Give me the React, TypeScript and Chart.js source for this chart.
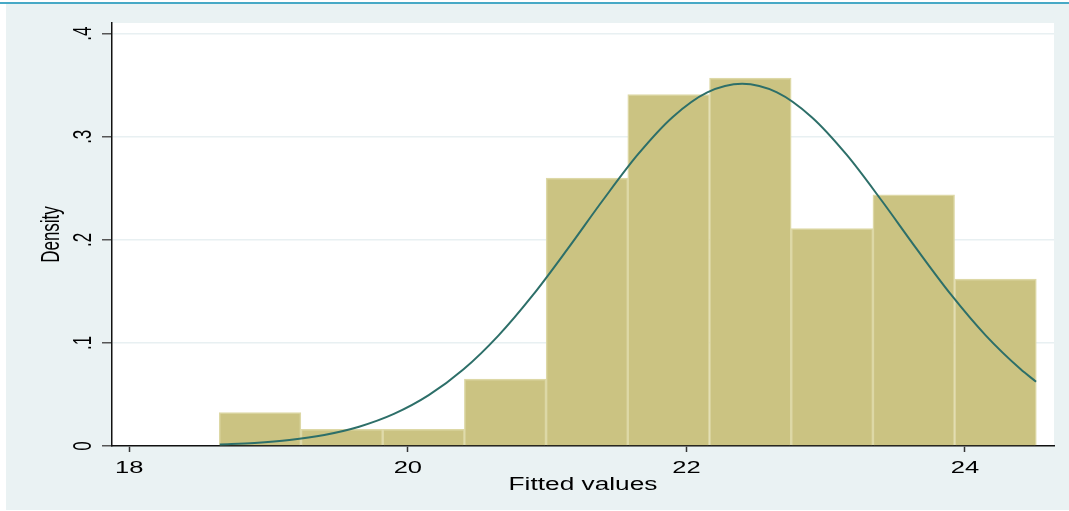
import React, { useEffect, useRef } from 'react';
import { Chart, registerables } from 'chart.js';

Chart.register(...registerables);

// Histogram bins (centers) and densities
const binCenters = [18.939, 19.526, 20.113, 20.699, 21.286, 21.872, 22.459, 23.046, 23.632, 24.219];
const binDensity = [0.0325, 0.0162, 0.0162, 0.065, 0.26, 0.341, 0.357, 0.211, 0.2436, 0.162];

// Normal density overlay
const curveX = [18.65, 18.9, 19.15, 19.4, 19.65, 19.9, 20.15, 20.4, 20.65, 20.9, 21.15, 21.4, 21.65, 21.9, 22.15, 22.4, 22.65, 22.9, 23.15, 23.4, 23.65, 23.9, 24.15, 24.4, 24.51];
const curveY = [0.0015, 0.003, 0.0058, 0.0107, 0.0187, 0.0311, 0.0493, 0.0744, 0.1071, 0.1468, 0.1917, 0.2384, 0.2826, 0.319, 0.3431, 0.3515, 0.3431, 0.319, 0.2826, 0.2384, 0.1917, 0.1468, 0.1071, 0.0744, 0.0624];

const xTickValues = [18, 20, 22, 24];
const xTickLabels = ['18', '20', '22', '24'];
const yTickValues = [0, 0.1, 0.2, 0.3, 0.4];
const yTickLabels = ['0', '.1', '.2', '.3', '.4'];
const xTitle = 'Fitted values';
const yTitle = 'Density';

const FONT = '"Liberation Sans", Arial, Helvetica, sans-serif';

const plotBgPlugin = {
  id: 'plotBg',
  beforeDraw(chart: any) {
    const { ctx, chartArea } = chart;
    ctx.save();
    ctx.fillStyle = '#ffffff';
    ctx.fillRect(chartArea.left, chartArea.top, chartArea.right - chartArea.left, chartArea.bottom - chartArea.top);
    ctx.restore();
  },
};

const textPlugin = {
  id: 'stataText',
  afterDraw(chart: any) {
    const ctx = chart.ctx;
    const xs = chart.scales.x;
    const ys = chart.scales.y;
    const area = chart.chartArea;
    ctx.save();
    ctx.fillStyle = '#000';
    ctx.textAlign = 'center';
    ctx.textBaseline = 'alphabetic';
    ctx.font = `17px ${FONT}`;
    xTickValues.forEach((v, i) => {
      const px = xs.getPixelForValue(v);
      ctx.save();
      ctx.translate(px, area.bottom + 27);
      ctx.scale(1.5, 1);
      ctx.fillText(xTickLabels[i], 0, 0);
      ctx.restore();
    });
    yTickValues.forEach((v, i) => {
      const py = ys.getPixelForValue(v);
      ctx.save();
      ctx.translate(area.left - 21, py);
      ctx.scale(1.5, 1);
      ctx.rotate(-Math.PI / 2);
      ctx.fillText(yTickLabels[i], 0, 0);
      ctx.restore();
    });
    ctx.font = `17.5px ${FONT}`;
    ctx.save();
    ctx.translate((area.left + area.right) / 2, area.bottom + 44);
    ctx.scale(1.5, 1);
    ctx.fillText(xTitle, 0, 0);
    ctx.restore();
    ctx.font = `17px ${FONT}`;
    ctx.save();
    ctx.translate(area.left - 53, (area.top + area.bottom) / 2);
    ctx.scale(1.5, 1);
    ctx.rotate(-Math.PI / 2);
    ctx.fillText(yTitle, 0, 0);
    ctx.restore();
    ctx.restore();
  },
};

export default function App() {
  const ref = useRef<HTMLCanvasElement>(null);

  useEffect(() => {
    document.body.style.margin = '0';
    const canvas = ref.current;
    if (!canvas) return;
    const chart = new Chart(canvas, {
      type: 'bar',
      data: {
        datasets: [
          {
            type: 'line',
            data: curveX.map((x, i) => ({ x, y: curveY[i] })),
            borderColor: '#2d6f69',
            borderWidth: 2,
            pointRadius: 0,
            fill: false,
            cubicInterpolationMode: 'monotone',
            order: 0,
          } as any,
          {
            type: 'bar',
            data: binCenters.map((x, i) => ({ x, y: binDensity[i] })),
            backgroundColor: '#cbc382',
            borderColor: '#ddd8a6',
            borderWidth: 1.5,
            barPercentage: 1,
            categoryPercentage: 1,
            order: 1,
          } as any,
        ],
      },
      options: {
        responsive: false,
        animation: false,
        devicePixelRatio: 1,
        layout: { padding: { top: 23, right: 15, left: 0, bottom: 0 } },
        plugins: {
          legend: { display: false },
          tooltip: { enabled: false },
        },
        scales: {
          x: {
            type: 'linear',
            min: 17.876,
            max: 24.639,
            offset: false,
            afterBuildTicks: (s: any) => {
              s.ticks = xTickValues.map((v) => ({ value: v }));
            },
            afterFit: (s: any) => {
              s.height = 65;
            },
            ticks: { display: false },
            grid: {
              offset: false,
              drawOnChartArea: false,
              drawTicks: true,
              tickLength: 6,
              tickColor: '#333',
              tickWidth: 1.5,
            },
            border: { display: true, color: '#111', width: 1.5 },
          },
          y: {
            type: 'linear',
            min: 0,
            max: 0.41036,
            afterBuildTicks: (s: any) => {
              s.ticks = yTickValues.map((v) => ({ value: v }));
            },
            afterFit: (s: any) => {
              s.width = 112;
            },
            ticks: { display: false },
            grid: {
              offset: false,
              color: '#e8f0f2',
              lineWidth: 1.5,
              drawTicks: true,
              tickLength: 10,
              tickColor: '#555',
              tickWidth: 1.5,
            },
            border: { display: true, color: '#111', width: 1.5 },
          },
        },
      } as any,
      plugins: [plotBgPlugin, textPlugin],
    });
    return () => chart.destroy();
  }, []);

  return (
    <div style={{ position: 'absolute', left: 0, top: 0, width: 1069, height: 511, background: '#ffffff', overflow: 'hidden' }}>
      <div style={{ position: 'absolute', left: 0, top: 2, width: 1069, height: 2, background: '#47a9c6' }} />
      <div style={{ position: 'absolute', left: 6, top: 4, width: 1063, height: 506, background: '#eaf2f3' }} />
      <canvas ref={ref} width={1069} height={511} style={{ position: 'absolute', left: 0, top: 0, width: 1069, height: 511 }} />
    </div>
  );
}
